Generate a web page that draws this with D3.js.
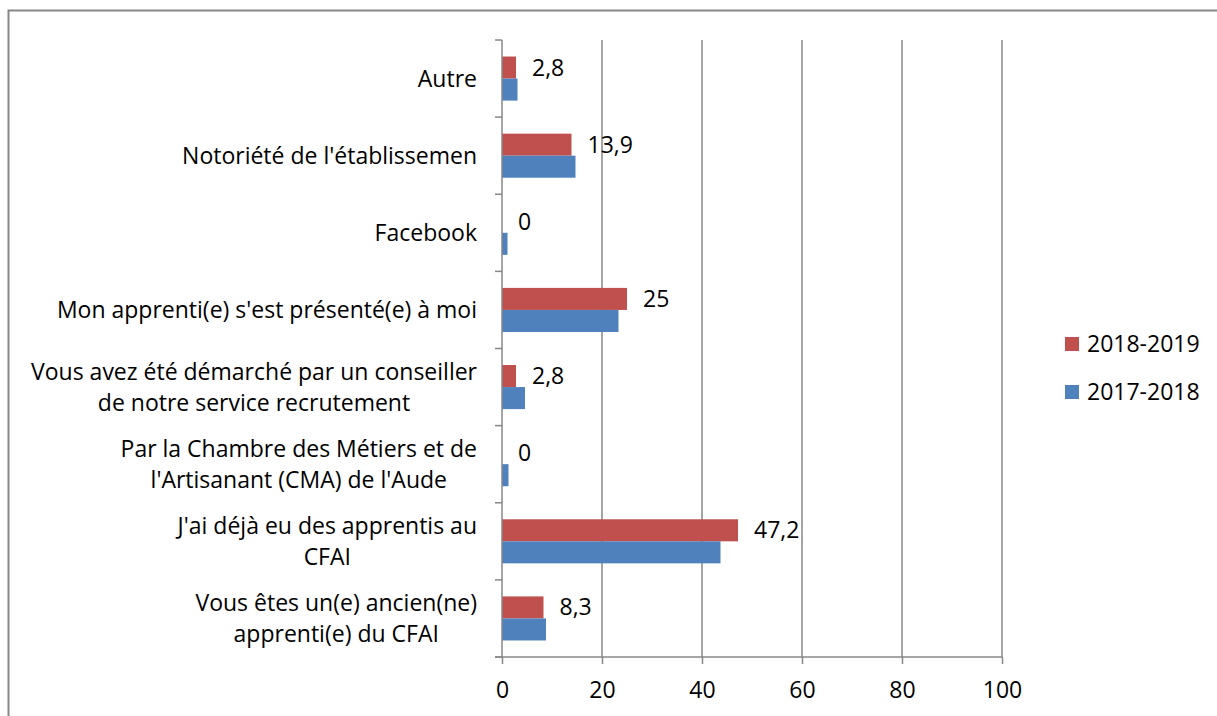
<!DOCTYPE html>
<html>
<head>
<meta charset="utf-8">
<script src="https://cdn.jsdelivr.net/npm/d3@7"></script>
<style>
  body { margin: 0; background: #fff; }
  svg { display: block; font-family: "Open Sans", sans-serif; }
</style>
</head>
<body>
<div id="chart"></div>
<script>
// categories top to bottom, each label split into its lines
const categories = [
    ["Autre"],
    ["Notoriété de l'établissemen"],
    ["Facebook"],
    ["Mon apprenti(e) s'est présenté(e) à moi"],
    ["Vous avez été démarché par un conseiller", "de notre service recrutement"],
    ["Par la Chambre des Métiers et de", "l'Artisanant (CMA) de l'Aude"],
    ["J'ai déjà eu des apprentis au", "CFAI"],
    ["Vous êtes un(e) ancien(ne)", "apprenti(e) du CFAI"],
];
const series = ["2018-2019", "2017-2018"];
const values2018 = [2.8, 13.9, 0, 25, 2.8, 0, 47.2, 8.3];
const values2017 = [3.1, 14.7, 1.1, 23.3, 4.6, 1.3, 43.7, 8.8];
const xTicks = [0, 20, 40, 60, 80, 100];
const colors = ["#c0504d", "#4f81bd"];

const width = 1217, height = 716;
const fontSize = 23;
const gridColor = "#878787";

const svg = d3.select("#chart").append("svg")
    .attr("width", width)
    .attr("height", height);

// chart frame (only top and left edges fall inside the picture)
svg.append("path")
    .attr("d", `M8.5,${height} V10.5 H${width}`)
    .attr("fill", "none")
    .attr("stroke", gridColor)
    .attr("stroke-width", 2);

const x = d3.scaleLinear().domain([0, 100]).range([502, 1002]);
const y = d3.scaleBand().domain(d3.range(categories.length)).range([40, 657]);
const y1 = d3.scaleBand().domain(series).range([0, y.bandwidth()]).paddingInner(0).paddingOuter(0.75);

// vertical gridlines
svg.append("g")
    .selectAll("line")
    .data(xTicks.slice(1))
    .join("line")
    .attr("x1", d => x(d)).attr("x2", d => x(d))
    .attr("y1", 40).attr("y2", 657)
    .attr("stroke", gridColor)
    .attr("stroke-width", 1.5);

// bars
const rows = categories.map((c, i) => ({ i, vals: [values2018[i], values2017[i]] }));
const groups = svg.append("g")
    .selectAll("g")
    .data(rows)
    .join("g")
    .attr("transform", d => `translate(0,${y(d.i)})`);

groups.selectAll("rect")
    .data(d => d.vals.map((v, k) => ({ key: series[k], v, k })))
    .join("rect")
    .attr("x", x(0))
    .attr("y", d => y1(d.key))
    .attr("width", d => x(d.v) - x(0))
    .attr("height", y1.bandwidth())
    .attr("fill", d => colors[d.k]);

// data labels for 2018-2019
groups.append("text")
    .attr("x", d => x(d.vals[0]) + 16)
    .attr("y", y1(series[0]) + y1.bandwidth() / 2)
    .attr("dy", "0.35em")
    .attr("font-size", fontSize)
    .attr("fill", "#000")
    .text(d => String(d.vals[0]).replace(".", ","));

// y axis line + ticks at band edges
const yEdges = d3.range(categories.length + 1).map(i => 40 + i * y.step());
svg.append("line")
    .attr("x1", x(0)).attr("x2", x(0))
    .attr("y1", 40).attr("y2", 657)
    .attr("stroke", gridColor).attr("stroke-width", 1.5);
svg.append("g")
    .selectAll("line")
    .data(yEdges)
    .join("line")
    .attr("x1", x(0) - 7).attr("x2", x(0))
    .attr("y1", d => d).attr("y2", d => d)
    .attr("stroke", gridColor).attr("stroke-width", 1.5);

// x axis
const xAxis = svg.append("g")
    .attr("transform", "translate(0,657)")
    .call(d3.axisBottom(x).tickValues(xTicks).tickSize(7).tickPadding(18));
xAxis.select(".domain")
    .attr("d", `M${x(0) - 7},0H${x(100)}`)
    .attr("stroke", gridColor).attr("stroke-width", 1.5);
xAxis.selectAll(".tick line").attr("stroke", gridColor).attr("stroke-width", 1.5);
xAxis.selectAll(".tick text")
    .attr("font-family", "'Open Sans', sans-serif")
    .attr("font-size", fontSize)
    .attr("fill", "#000");

// category labels: block right-aligned to the axis, lines centred inside it
const lineH = 31;
const labels = svg.append("g")
    .selectAll("g")
    .data(categories)
    .join("g");
labels.each(function(lines, i) {
    const g = d3.select(this);
    const cy = y(i) + y.bandwidth() / 2;
    const texts = g.selectAll("text")
        .data(lines)
        .join("text")
        .attr("font-size", fontSize)
        .attr("fill", "#000")
        .attr("text-anchor", "middle")
        .attr("dy", "0.35em")
        .attr("y", (d, j) => cy + (j - (lines.length - 1) / 2) * lineH)
        .text(d => d);
    const w = d3.max(texts.nodes(), n => n.getComputedTextLength());
    texts.attr("x", 477 - w / 2);
});

// legend
const legend = svg.append("g")
    .selectAll("g")
    .data(series)
    .join("g")
    .attr("transform", (d, i) => `translate(1065,${337 + i * 48})`);
legend.append("rect")
    .attr("width", 14).attr("height", 14)
    .attr("fill", (d, i) => colors[i]);
legend.append("text")
    .attr("x", 22).attr("y", 7)
    .attr("dy", "0.35em")
    .attr("font-size", fontSize)
    .attr("fill", "#000")
    .text(d => d);
</script>
</body>
</html>
